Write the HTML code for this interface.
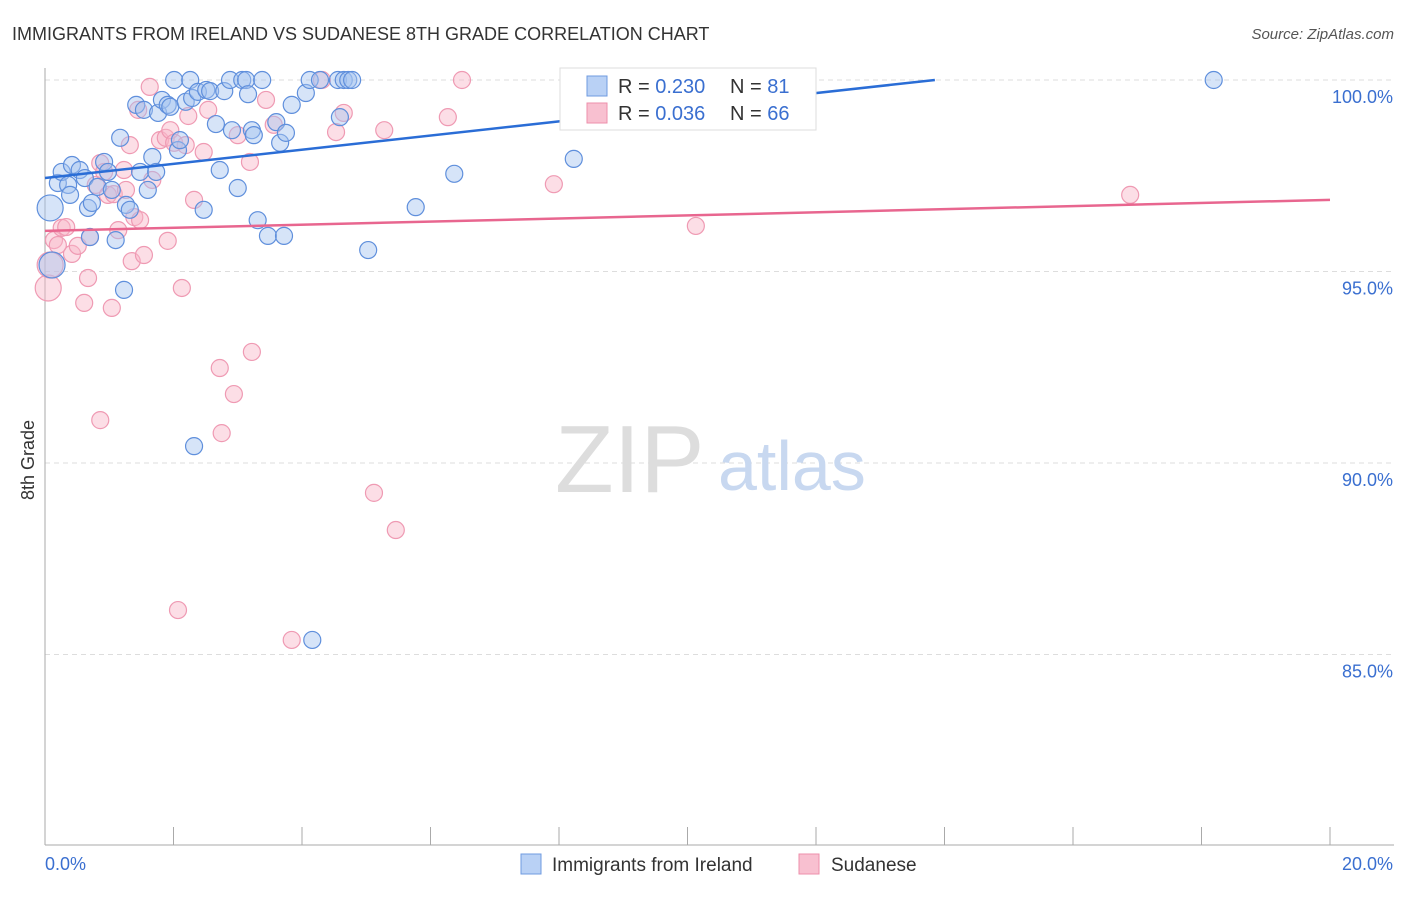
<!DOCTYPE html>
<html><head><meta charset="utf-8"><style>
body{margin:0;background:#fff;font-family:"Liberation Sans",sans-serif}
svg text{font-family:"Liberation Sans",sans-serif}
</style></head><body>
<svg id="chart" width="1406" height="892" viewBox="0 0 1406 892" xmlns="http://www.w3.org/2000/svg">
<text x="12" y="40" font-size="18" fill="#333">IMMIGRANTS FROM IRELAND VS SUDANESE 8TH GRADE CORRELATION CHART</text>
<text x="1394" y="39" font-size="15" fill="#555" font-style="italic" text-anchor="end">Source: ZipAtlas.com</text>
<g id="grid"></g>
<g id="axes"></g>
<text x="555" y="492" font-size="96" fill="#ddd" font-family="Liberation Serif">ZIP</text>
<text x="718" y="490" font-size="70" fill="#c8d8f0">atlas</text>
<g id="pts"></g>
<g id="lines"></g>
<text x="34" y="460" font-size="18" fill="#333" transform="rotate(-90 34 460)" text-anchor="middle">8th Grade</text>
<g>
<rect x="560" y="68" width="256" height="62" fill="#fff" stroke="#ddd"/>
<rect x="587" y="76" width="20" height="20" fill="#b9d1f5" stroke="#6f9be0"/>
<rect x="587" y="103" width="20" height="20" fill="#f8c0d0" stroke="#ee8fab"/>
<text x="618" y="93" font-size="20" fill="#333">R = <tspan fill="#3a6fd0">0.230</tspan></text>
<text x="730" y="93" font-size="20" fill="#333">N = <tspan fill="#3a6fd0">81</tspan></text>
<text x="618" y="120" font-size="20" fill="#333">R = <tspan fill="#3a6fd0">0.036</tspan></text>
<text x="730" y="120" font-size="20" fill="#333">N = <tspan fill="#3a6fd0">66</tspan></text>
</g>
<g>
<rect x="521" y="854" width="20" height="20" fill="#b9d1f5" stroke="#6f9be0"/>
<text x="552" y="871" font-size="19" fill="#333">Immigrants from Ireland</text>
<rect x="799" y="854" width="20" height="20" fill="#f8c0d0" stroke="#ee8fab"/>
<text x="831" y="871" font-size="19" fill="#333">Sudanese</text>
</g>
</svg>
<script>
const blueX=[0.08,0.11,0.20,0.26,0.36,0.39,0.42,0.54,0.62,0.67,0.73,0.70,0.82,0.92,0.98,1.04,1.10,1.17,1.23,1.26,1.32,1.42,1.48,1.54,1.60,1.67,1.73,1.76,1.82,1.91,1.95,2.01,2.07,2.10,2.19,2.26,2.29,2.38,2.47,2.51,2.57,2.66,2.72,2.79,2.88,2.91,3.00,3.07,3.13,3.16,3.22,3.25,3.31,3.38,3.47,3.60,3.66,3.72,3.75,3.84,4.06,4.12,4.16,4.28,4.56,4.59,4.65,4.72,4.78,5.03,5.77,6.37,8.23,10.27,11.16,18.19,2.32];
const blueY=[96.66,95.17,97.31,97.60,97.26,97.00,97.78,97.65,97.44,96.66,96.79,95.90,97.21,97.86,97.60,97.13,95.82,98.49,94.52,96.74,96.61,99.35,97.60,99.22,97.13,97.99,97.60,99.14,99.48,99.35,99.30,100,98.17,98.43,99.43,100,99.53,99.69,96.61,99.74,99.71,98.85,97.65,99.71,100,98.69,97.18,100,100,99.63,98.69,98.56,96.34,100,95.93,98.90,98.36,95.93,98.62,99.35,99.66,100,85.38,100,100,99.03,100,100,100,95.56,96.68,97.55,97.94,100,100,100,90.44];
const pinkX=[0.05,0.08,0.14,0.20,0.26,0.33,0.42,0.51,0.61,0.67,0.79,0.86,0.92,0.98,1.04,1.07,1.14,1.23,1.26,1.32,1.35,1.39,1.45,1.48,1.54,1.63,1.67,1.79,1.88,1.91,1.95,2.01,2.07,2.13,2.19,2.23,2.32,2.47,2.54,2.72,2.75,2.94,3.00,3.19,3.22,3.44,3.56,3.84,4.31,4.53,4.65,5.12,5.28,5.46,6.27,6.49,7.92,10.13,16.89,0.86,0.70];
const pinkY=[94.57,95.17,95.82,95.69,96.14,96.16,95.46,95.67,94.18,94.83,97.26,97.83,97.60,97.00,94.05,97.02,96.08,97.65,97.13,98.30,95.27,96.42,99.22,96.34,95.43,99.82,97.39,98.43,98.49,95.80,98.69,98.36,86.16,94.57,98.30,99.06,96.87,98.12,99.22,92.48,90.78,91.80,98.56,97.86,92.90,99.48,98.83,85.38,100,98.64,99.14,89.22,98.69,88.25,99.03,100,97.28,96.19,97.00,91.12,95.90];
const blueLine=[[0,97.44],[13.85,100]];
const pinkLine=[[0,96.06],[20,96.87]];
const yTicks=[100,95,90,85];
const xTickCount=10;
const X0=45,X1=1330,Y100=80,PXPER=38.3;
const xs=v=>X0+(X1-X0)*v/20;
const ys=v=>Y100+(100-v)*PXPER;
const NS='http://www.w3.org/2000/svg';
function mk(t,a,p){const e=document.createElementNS(NS,t);for(const k in a)e.setAttribute(k,a[k]);p.appendChild(e);return e;}
const grid=document.getElementById('grid'),axes=document.getElementById('axes');
yTicks.forEach(t=>{
 const l=mk('line',{x1:X0,x2:1394,y1:ys(t),y2:ys(t),stroke:'#ddd','stroke-dasharray':'5,4'},grid);
 
 
 const tx=mk('text',{x:1393,y:ys(t)+23,'font-size':18,fill:'#3a6fd0','text-anchor':'end'},axes);
 tx.textContent=t.toFixed(1)+'%';
 
 
});
mk('line',{x1:X0,x2:X0,y1:68,y2:845,stroke:'#aaa'},axes);
mk('line',{x1:X0,x2:1394,y1:845,y2:845,stroke:'#aaa'},axes);
for(let i=0;i<=xTickCount;i++){const x=xs(i*2);const t=mk('line',{x1:x,x2:x,y1:827,y2:845,stroke:'#aaa'},axes);
 
 }
const xl0=mk('text',{x:45,y:870,'font-size':18,fill:'#3a6fd0'},axes);xl0.textContent='0.0%';


const xl1=mk('text',{x:1393,y:870,'font-size':18,fill:'#3a6fd0','text-anchor':'end'},axes);xl1.textContent='20.0%';


const pts=document.getElementById('pts');
pinkX.forEach((x,i)=>{const c=mk('circle',{cx:xs(x),cy:ys(pinkY[i]),r:i<2?13:8.5,fill:'rgba(248,182,200,0.45)',stroke:'#ef9ab3','stroke-width':1.2},pts);
 
 });
blueX.forEach((x,i)=>{const c=mk('circle',{cx:xs(x),cy:ys(blueY[i]),r:i<2?13:8.5,fill:'rgba(164,196,240,0.45)',stroke:'#5f8fdc','stroke-width':1.2},pts);
 
 });
const lines=document.getElementById('lines');
const bl=mk('line',{x1:xs(blueLine[0][0]),y1:ys(blueLine[0][1]),x2:xs(blueLine[1][0]),y2:ys(blueLine[1][1]),stroke:'#2a6dd6','stroke-width':2.5},lines);


const pl=mk('line',{x1:xs(pinkLine[0][0]),y1:ys(pinkLine[0][1]),x2:xs(pinkLine[1][0]),y2:ys(pinkLine[1][1]),stroke:'#e8668f','stroke-width':2.5},lines);


</script>
</body></html>
